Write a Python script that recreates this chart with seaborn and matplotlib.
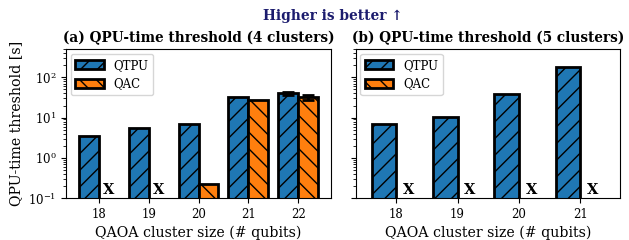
import numpy as np
import pandas as pd
import matplotlib
matplotlib.use("Agg")
import matplotlib.pyplot as plt
from matplotlib.patches import Patch
import seaborn as sns

# ---- data ----
sizes_a = [18, 19, 20, 21, 22]
qtpu_a = [3.5, 5.4, 7.0, 33.0, 40.0]
qac_a = [np.nan, np.nan, 0.23, 27.5, 32.0]
qtpu_a_err = [0, 0, 0, 0, 4.0]
qac_a_err = [0, 0, 0, 0, 4.0]

sizes_b = [18, 19, 20, 21]
qtpu_b = [7.0, 10.3, 39.0, 178.0]
qac_b = [np.nan, np.nan, np.nan, np.nan]
qtpu_b_err = [0, 0, 0, 0]
qac_b_err = [0, 0, 0, 0]

methods = ["QTPU", "QAC"]
colors = {"QTPU": "#1f77b4", "QAC": "#ff7f0e"}
hatches = {"QTPU": "//", "QAC": "\\\\"}

sns.set_style("ticks")
plt.rcParams["font.family"] = ["DejaVu Serif"]
plt.rcParams["hatch.linewidth"] = 1.0
plt.rcParams["hatch.color"] = "black"
plt.rcParams["text.color"] = "black"
plt.rcParams["axes.labelcolor"] = "black"
plt.rcParams["xtick.color"] = "black"
plt.rcParams["ytick.color"] = "black"
plt.rcParams["axes.edgecolor"] = "black"

fig, axes = plt.subplots(1, 2, figsize=(6.29, 2.4), dpi=100, sharey=True)
fig.subplots_adjust(left=0.105, right=0.986, top=0.795, bottom=0.174, wspace=0.095)

panels = [
    (axes[0], sizes_a, qtpu_a, qac_a, qtpu_a_err, qac_a_err, "(a) QPU-time threshold (4 clusters)"),
    (axes[1], sizes_b, qtpu_b, qac_b, qtpu_b_err, qac_b_err, "(b) QPU-time threshold (5 clusters)"),
]

for ax, sizes, qt, qa, qte, qae, title in panels:
    df = pd.DataFrame({
        "size": [str(s) for s in sizes] * 2,
        "method": ["QTPU"] * len(sizes) + ["QAC"] * len(sizes),
        "value": list(qt) + list(qa),
    })
    sns.barplot(data=df, x="size", y="value", hue="method", hue_order=methods,
                order=[str(s) for s in sizes], palette=colors, errorbar=None,
                saturation=1, width=0.8, edgecolor="black", linewidth=2, ax=ax, legend=False)
    errs = {"QTPU": qte, "QAC": qae}
    vals = {"QTPU": qt, "QAC": qa}
    for m in methods:
        col = matplotlib.colors.to_rgba(colors[m])
        for p in ax.patches:
            if np.allclose(p.get_facecolor(), col, atol=0.01):
                p.set_hatch(hatches[m])
                xc = p.get_x() + p.get_width() / 2
                i = int(round(xc))
                if 0 <= i < len(sizes) and errs[m][i] > 0 and np.isfinite(vals[m][i]):
                    ax.errorbar(xc, vals[m][i], yerr=errs[m][i], ecolor="black",
                                elinewidth=2, capsize=4, capthick=2, fmt="none", zorder=5)
    # markers for missing QAC results
    off = 0.8 / len(methods) / 2
    for i, v in enumerate(qa):
        if not np.isfinite(v):
            ax.text(i + off, 0.105, "X", ha="center", va="bottom", fontsize=10.5,
                    fontweight="bold")
    ax.set_yscale("log")
    ax.set_ylim(0.1, 500)
    ax.set_xlim(-0.66, len(sizes) - 1 + 0.65)
    ax.set_title(title, fontsize=9.8, fontweight="bold", pad=5)
    ax.set_xlabel("QAOA cluster size (# qubits)", fontsize=10.2, labelpad=3)
    ax.tick_params(axis="both", labelsize=8.5)
    handles = [Patch(facecolor=colors[m], edgecolor="black", hatch=hatches[m], linewidth=2, label=m)
               for m in methods]
    ax.legend(handles=handles, loc="upper left", fontsize=8.5, frameon=True,
              handlelength=2.4, handleheight=0.9, borderaxespad=0.4)
    for s in ax.spines.values():
        s.set_visible(True)

axes[0].set_ylabel("QPU-time threshold [s]", fontsize=10.2)
axes[1].set_ylabel("")
fig.text(0.529, 0.935, "Higher is better \u2191", ha="center", va="center", fontsize=9.9,
         fontweight="bold", color="#1c1c6e")

fig.savefig("out.png", dpi=100)
